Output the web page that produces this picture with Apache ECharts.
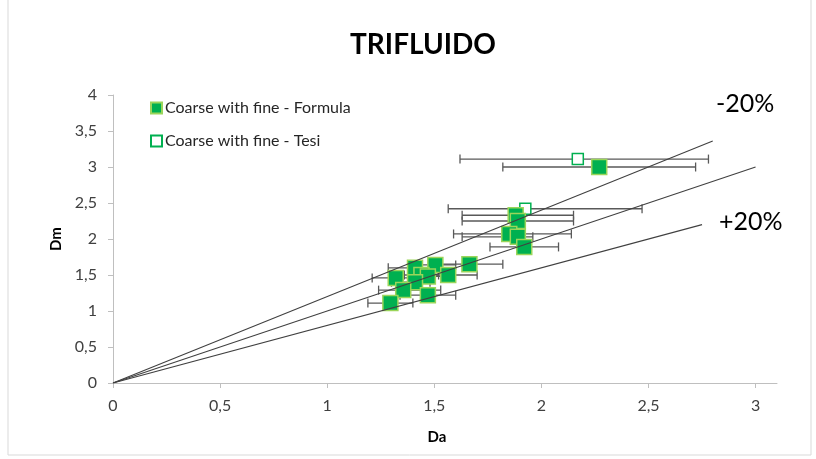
<!DOCTYPE html>
<html><head><meta charset="utf-8">
<script src="https://cdn.jsdelivr.net/npm/echarts@6/dist/echarts.min.js"></script>
<style>html,body{margin:0;padding:0;background:#fff}#c{width:816px;height:459px}</style>
</head><body><div id="c"></div>
<script>
// Coarse with fine - Formula (filled squares)
const formulaX  = [2.27, 1.88, 1.89, 1.85, 1.89, 1.92, 1.664, 1.505, 1.41, 1.565, 1.44, 1.47, 1.41, 1.32, 1.355, 1.47, 1.295];
const formulaY  = [3.00, 2.33, 2.25, 2.07, 2.03, 1.89, 1.65, 1.64, 1.60, 1.50, 1.50, 1.48, 1.40, 1.46, 1.29, 1.22, 1.11];
const formulaLo = [1.82, 1.63, 1.63, 1.59, 1.63, 1.76, 1.50, 1.40, 1.285, 1.43, 1.36, 1.38, 1.30, 1.21, 1.24, 1.34, 1.19];
const formulaHi = [2.72, 2.15, 2.15, 2.14, 1.96, 2.08, 1.82, 1.60, 1.53, 1.70, 1.52, 1.56, 1.48, 1.43, 1.53, 1.60, 1.40];
// Coarse with fine - Tesi (hollow squares)
const tesiX  = [2.17, 1.925];
const tesiY  = [3.11, 2.42];
const tesiLo = [1.62, 1.565];
const tesiHi = [2.78, 2.47];
// Reference lines (-20%, 0%, +20%)
const lineMinus = [[0, 0], [2.8, 3.36]];
const lineZero  = [[0, 0], [3.0, 3.0]];
const linePlus  = [[0, 0], [2.75, 2.2]];
const xTicks = [0, 0.5, 1, 1.5, 2, 2.5, 3];

const FONT = 'Lato';
const fmt = v => String(v).replace('.', ',');
const zip = (a, b) => a.map((v, i) => [v, b[i]]);
const errData = (xs, ys, lo, hi) => xs.map((v, i) => [v, ys[i], lo[i], hi[i]]);

function errRender(params, api) {
  const y = api.value(1);
  const a = api.coord([api.value(2), y]);
  const b = api.coord([api.value(3), y]);
  const st = { stroke: '#595959', lineWidth: 1.3 };
  const h = 4.5;
  return { type: 'group', children: [
    { type: 'line', shape: { x1: a[0], y1: a[1], x2: b[0], y2: b[1] }, style: st },
    { type: 'line', shape: { x1: a[0], y1: a[1] - h, x2: a[0], y2: a[1] + h }, style: st },
    { type: 'line', shape: { x1: b[0], y1: b[1] - h, x2: b[0], y2: b[1] + h }, style: st }
  ]};
}

const refLine = (d) => ({ type: 'line', data: d, symbol: 'none', silent: true, z: 5,
  lineStyle: { color: '#404040', width: 1.1 }, animation: false });

const chart = echarts.init(document.getElementById('c'), null, { renderer: 'canvas' });
chart.setOption({
  animation: false,
  textStyle: { fontFamily: FONT },
  title: { text: 'TRIFLUIDO', left: 418, top: 26, textAlign: 'center',
    textStyle: { fontFamily: FONT, fontWeight: 'bold', fontSize: 28, color: '#000' } },
  legend: {
    orient: 'vertical', left: 150, top: 100, padding: 0, itemGap: 17, itemWidth: 11, itemHeight: 11,
    icon: 'rect', data: ['Coarse with fine - Formula', 'Coarse with fine - Tesi'],
    textStyle: { fontFamily: FONT, fontSize: 16, color: '#262626', padding: [0, 0, 0, -2] }
  },
  grid: { left: 113, right: 39, top: 95, bottom: 76 },
  xAxis: {
    type: 'value', min: 0, max: 3.1, name: 'Da', nameLocation: 'middle', nameGap: 47,
    nameTextStyle: { fontFamily: FONT, fontWeight: 'bold', fontSize: 15, color: '#000', padding: [0, 16, 0, 0] },
    axisLine: { show: true, onZero: false, lineStyle: { color: '#BFBFBF', width: 1 } },
    axisTick: { show: true, length: 5, customValues: xTicks, lineStyle: { color: '#BFBFBF' } },
    axisLabel: { customValues: xTicks, formatter: fmt, margin: 15, fontFamily: FONT, fontSize: 16, color: '#404040' },
    splitLine: { show: false }
  },
  yAxis: {
    type: 'value', min: 0, max: 4, interval: 0.5, name: 'Dm', nameLocation: 'middle', nameGap: 49,
    nameTextStyle: { fontFamily: FONT, fontWeight: 'bold', fontSize: 15, color: '#000' },
    axisLine: { show: true, onZero: false, lineStyle: { color: '#BFBFBF', width: 1 } },
    axisTick: { show: true, length: 5, inside: false, lineStyle: { color: '#BFBFBF' } },
    axisLabel: { formatter: fmt, margin: 16, fontFamily: FONT, fontSize: 16, color: '#404040' },
    splitLine: { show: false }
  },
  graphic: [
    { type: 'rect', shape: { x: 8, y: -2, width: 803, height: 457 }, silent: true,
      style: { fill: 'none', stroke: '#D9D9D9', lineWidth: 1 }, z: -10 },
    { type: 'text', left: 716, top: 91, style: { text: '-20%', fontFamily: FONT, fontSize: 25, fill: '#000' } },
    { type: 'text', left: 719, top: 209, style: { text: '+20%', fontFamily: FONT, fontSize: 25, fill: '#000' } }
  ],
  series: [
    { type: 'custom', name: 'errF', renderItem: errRender, encode: { x: [2, 3], y: 1 },
      data: errData(formulaX, formulaY, formulaLo, formulaHi), z: 1, silent: true },
    { type: 'custom', name: 'errT', renderItem: errRender, encode: { x: [2, 3], y: 1 },
      data: errData(tesiX, tesiY, tesiLo, tesiHi), z: 1, silent: true },
    { type: 'scatter', name: 'Coarse with fine - Tesi', data: zip(tesiX, tesiY), symbol: 'rect', symbolSize: 11, z: 2,
      itemStyle: { color: '#fff', borderColor: '#00B050', borderWidth: 1.5, opacity: 1 } },
    { type: 'scatter', name: 'Coarse with fine - Formula', data: zip(formulaX, formulaY), symbol: 'rect', symbolSize: 15, z: 3,
      itemStyle: { color: '#00B050', borderColor: '#9BD55A', borderWidth: 1.5, opacity: 1 } },
    refLine(lineMinus), refLine(lineZero), refLine(linePlus)
  ]
});
</script></body></html>
